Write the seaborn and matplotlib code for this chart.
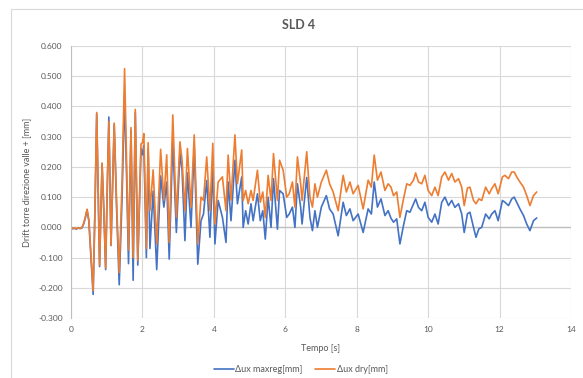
import matplotlib
matplotlib.use("Agg")
import matplotlib.pyplot as plt
import seaborn as sns
import pandas as pd
from matplotlib.patches import Rectangle

# ---------------- data ----------------
time_s = [
    0.00, 0.05, 0.10, 0.15, 0.20, 0.25, 0.30, 0.35, 0.40, 0.45, 0.50, 0.55, 0.58, 0.62, 0.67,
    0.72, 0.76, 0.80, 0.87, 0.92, 0.97, 1.01, 1.06, 1.12, 1.21, 1.28, 1.35, 1.43, 1.50, 1.56,
    1.61, 1.68, 1.74, 1.80, 1.87, 1.96, 2.00, 2.04, 2.11, 2.16,
    2.21, 2.30, 2.40, 2.51, 2.60, 2.68, 2.75, 2.85, 2.95, 3.05, 3.11, 3.19, 3.26, 3.36, 3.45,
    3.55, 3.64, 3.71, 3.80, 3.89, 3.97, 4.03, 4.12, 4.24, 4.34,
    4.40, 4.48, 4.59, 4.66, 4.78, 4.82, 4.89, 4.96, 5.04, 5.10, 5.22, 5.30, 5.37, 5.44, 5.52,
    5.60, 5.67, 5.78, 5.84, 5.94, 6.04, 6.11, 6.20, 6.27, 6.34, 6.43, 6.47, 6.60,
    6.69, 6.76, 6.83, 6.90, 7.01, 7.15, 7.24, 7.34, 7.48, 7.62, 7.71, 7.81, 7.90, 8.04, 8.18,
    8.32, 8.41, 8.49, 8.58, 8.68, 8.79, 8.88,
    8.96, 9.03, 9.12, 9.21, 9.31, 9.40, 9.49, 9.59, 9.65, 9.73, 9.82, 9.91, 10.00, 10.10, 10.19,
    10.28, 10.38, 10.47, 10.57, 10.66, 10.75, 10.85, 10.94, 11.01,
    11.10, 11.17, 11.27, 11.34, 11.42, 11.50, 11.61, 11.71, 11.78, 11.87, 11.96, 12.08, 12.15,
    12.25, 12.34, 12.41, 12.48, 12.57, 12.67, 12.76, 12.85, 12.95, 13.04,
]

dux_maxreg = [
    0.000, -0.005, -0.003, -0.006, -0.002, -0.004, -0.003, 0.010, 0.030, 0.058, 0.020, -0.080, -0.140, -0.222, 0.050,
    0.375, 0.120, -0.130, 0.210, 0.050, -0.140, 0.100, 0.365, -0.060, 0.340, 0.050, -0.190, 0.100, 0.440, 0.150,
    -0.120, 0.320, -0.175, 0.380, -0.125, 0.260, 0.240, 0.270, -0.100, 0.260,
    -0.070, 0.120, -0.140, 0.170, 0.067, 0.150, -0.105, 0.290, -0.017, 0.244, 0.190, -0.044, 0.180, 0.000, 0.267,
    -0.122, 0.022, 0.044, 0.155, -0.033, 0.200, -0.055, 0.089, 0.033, -0.050,
    0.150, 0.022, 0.222, 0.078, 0.167, 0.000, 0.055, 0.011, 0.078, 0.022, 0.111, 0.022, 0.055, -0.039, 0.100,
    0.000, 0.161, -0.006, 0.122, 0.111, 0.033, 0.044, 0.067, 0.000, 0.144, 0.067, 0.011, 0.165,
    0.033, -0.011, 0.055, 0.000, 0.067, 0.105, 0.061, 0.044, -0.028, 0.083, 0.039, 0.061, 0.022, 0.044, -0.017,
    0.061, 0.044, 0.150, 0.067, 0.094, 0.039, 0.055,
    0.030, 0.017, 0.028, -0.055, 0.006, 0.055, 0.050, 0.078, 0.094, 0.066, 0.055, 0.083, 0.033, 0.017, 0.044,
    0.011, 0.083, 0.100, 0.072, 0.089, 0.066, 0.078, 0.044, -0.017,
    0.045, 0.050, 0.000, -0.033, -0.005, 0.000, 0.044, 0.028, 0.044, 0.055, 0.022, 0.089, 0.083,
    0.072, 0.094, 0.100, 0.083, 0.061, 0.039, 0.011, -0.011, 0.022, 0.031,
]

dux_dry = [
    0.000, -0.004, -0.002, -0.005, -0.002, -0.003, -0.002, 0.012, 0.033, 0.060, 0.025, -0.070, -0.130, -0.210, 0.060,
    0.380, 0.120, -0.125, 0.213, 0.060, -0.135, 0.110, 0.350, -0.060, 0.345, 0.070, -0.150, 0.150, 0.525, 0.200,
    -0.075, 0.330, -0.100, 0.390, -0.110, 0.276, 0.280, 0.310, -0.070, 0.280,
    0.055, 0.190, -0.055, 0.258, 0.090, 0.240, -0.050, 0.372, 0.033, 0.283, 0.222, 0.055, 0.261, 0.067, 0.306,
    -0.055, 0.100, 0.089, 0.233, 0.055, 0.278, 0.011, 0.150, 0.167, 0.055,
    0.239, 0.090, 0.306, 0.144, 0.256, 0.089, 0.122, 0.078, 0.122, 0.089, 0.189, 0.083, 0.117, 0.033, 0.172,
    0.089, 0.244, 0.089, 0.222, 0.189, 0.100, 0.111, 0.150, 0.067, 0.233, 0.144, 0.089, 0.250,
    0.100, 0.067, 0.144, 0.100, 0.150, 0.189, 0.144, 0.117, 0.055, 0.172, 0.117, 0.150, 0.111, 0.139, 0.061,
    0.156, 0.133, 0.239, 0.156, 0.183, 0.122, 0.144,
    0.133, 0.105, 0.117, 0.033, 0.094, 0.144, 0.139, 0.156, 0.180, 0.150, 0.144, 0.172, 0.122, 0.105, 0.133,
    0.105, 0.167, 0.183, 0.156, 0.178, 0.150, 0.161, 0.133, 0.072,
    0.130, 0.133, 0.089, 0.078, 0.094, 0.089, 0.133, 0.111, 0.128, 0.144, 0.111, 0.167, 0.172,
    0.161, 0.183, 0.183, 0.167, 0.150, 0.133, 0.105, 0.072, 0.105, 0.117,
]

series_names = ["\u0394ux maxreg[mm]", "\u0394ux dry[mm]"]
series_colors = ["#4472C4", "#ED7D31"]
y_ticks = [-0.3, -0.2, -0.1, 0.0, 0.1, 0.2, 0.3, 0.4, 0.5, 0.6]
x_ticks = [0, 2, 4, 6, 8, 10, 12, 14]

# ---------------- figure ----------------
sns.set_theme(style="white")
plt.rcParams["font.family"] = ["Lato", "DejaVu Sans"]
TXT = "#595959"

df = pd.concat([
    pd.DataFrame({"Tempo": time_s, "val": dux_maxreg, "serie": series_names[0]}),
    pd.DataFrame({"Tempo": time_s, "val": dux_dry, "serie": series_names[1]}),
], ignore_index=True)

W, H = 583, 378
fig = plt.figure(figsize=(W / 100, H / 100), dpi=100)
L, R, T, B = 71, 571, 46, 318
ax = fig.add_axes([L / W, 1 - B / H, (R - L) / W, (B - T) / H])

# chart-area border
fig.patches.append(Rectangle((11 / W, -0.1), 1.2, 1 - 9 / H + 0.1, transform=fig.transFigure,
                             fill=False, edgecolor="#D9D9D9", linewidth=0.8))

sns.lineplot(data=df, x="Tempo", y="val", hue="serie", palette=series_colors,
             sort=False, estimator=None, linewidth=1.2, ax=ax)

ax.set_xlim(0, 14)
ax.set_ylim(-0.3, 0.6)
ax.set_xticks(x_ticks)
ax.set_yticks(y_ticks)
ax.set_xticklabels([str(v) for v in x_ticks])
ax.set_yticklabels([f"{v:.3f}" for v in y_ticks])
ax.grid(True, color="#D9D9D9", linewidth=0.8)
ax.set_axisbelow(True)
ax.axhline(0, color="#BFBFBF", linewidth=1.0, zorder=1)
for s in ["top", "right", "bottom"]:
    ax.spines[s].set_visible(False)
ax.spines["left"].set_color("#BFBFBF")
ax.spines["left"].set_linewidth(0.8)
ax.tick_params(axis="y", length=2.2, width=0.8, color="#BFBFBF", pad=3.8, labelsize=6, labelcolor=TXT)
ax.tick_params(axis="x", length=0, pad=6, labelsize=6, labelcolor=TXT)

ax.set_xlabel("Tempo [s]", fontsize=6.5, color=TXT)
ax.xaxis.set_label_coords(0.5, -(344 - B) / (B - T), transform=ax.transAxes)
ax.set_ylabel("Drift torre direzione valle + [mm]", fontsize=6.5, color=TXT)
ax.yaxis.set_label_coords((31 - L) / (R - L), 0.5, transform=ax.transAxes)

fig.text(299 / W, 1 - 25 / H, "SLD 4", ha="center", va="center", fontsize=9,
         fontweight="bold", color=TXT)

sns.move_legend(ax, "center", bbox_to_anchor=((301 - L) / (R - L), -(370 - B) / (B - T)),
                ncol=2, frameon=False, title=None, fontsize=6.5, handlelength=2.2,
                columnspacing=1.4, handletextpad=0.2)
for t in ax.get_legend().get_texts():
    t.set_color(TXT)

fig.savefig("out.png", dpi=100)
